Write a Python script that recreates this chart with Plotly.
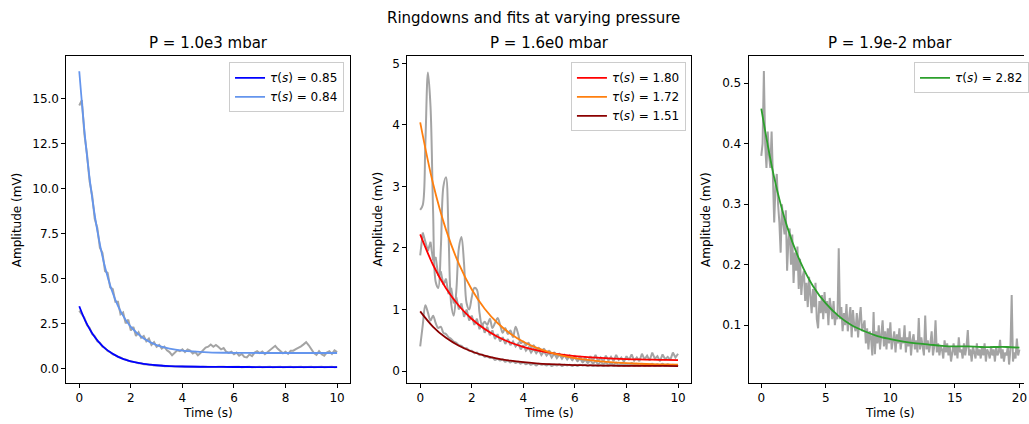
import plotly.graph_objects as go
import numpy as np

# ---------------- data ----------------
# Panel 1: P = 1.0e3 mbar
t1 = [round(i * 0.1, 1) for i in range(101)]
p1_grey_hi = [14.6, 14.9, 13.0, 11.9, 10.4, 9.6, 8.3, 7.8, 6.7, 6.4,
              5.4, 5.3, 4.5, 4.4, 3.7, 3.7, 3.0, 3.1, 2.5, 2.7,
              2.1, 2.3, 1.8, 2.0, 1.7, 1.8, 1.5, 1.65, 1.3, 1.45,
              1.2, 1.3, 1.1, 1.2, 1.0, 0.9, 0.72, 0.85, 1.0, 0.95,
              1.05, 0.9, 1.05, 0.98, 0.82, 0.9, 0.72, 0.85, 1.0, 1.15,
              1.2, 1.32, 1.2, 1.3, 1.18, 1.05, 1.12, 0.92, 0.85, 0.92,
              0.78, 0.87, 0.7, 0.8, 0.63, 0.6, 0.77, 0.68, 0.87, 0.95,
              0.85, 0.93, 0.78, 0.9, 0.98, 1.1, 1.25, 1.08, 0.95, 0.83,
              0.92, 0.8, 0.97, 0.98, 1.07, 1.13, 1.22, 1.33, 1.45, 1.28,
              1.05, 0.85, 0.75, 0.95, 0.78, 0.7, 0.87, 0.95, 0.8, 1.0,
              0.9]
p1_grey_lo = [3.2, 3.0, 2.8, 2.4, 2.25, 1.9, 1.78, 1.5, 1.42, 1.2,
              1.13, 0.97, 0.9, 0.78, 0.73, 0.63, 0.6, 0.51, 0.49, 0.42,
              0.4, 0.34, 0.33, 0.28, 0.28, 0.23, 0.23, 0.19, 0.2, 0.16,
              0.17, 0.14, 0.15, 0.12, 0.13, 0.11, 0.12, 0.1, 0.11, 0.09,
              0.1, 0.08, 0.1, 0.08, 0.09, 0.07, 0.09, 0.07, 0.08, 0.07,
              0.08, 0.06, 0.08, 0.07, 0.08, 0.06, 0.08, 0.07, 0.08, 0.06,
              0.08, 0.07, 0.08, 0.06, 0.08, 0.07, 0.08, 0.06, 0.08, 0.07,
              0.08, 0.06, 0.08, 0.07, 0.08, 0.06, 0.08, 0.07, 0.08, 0.06,
              0.08, 0.07, 0.08, 0.06, 0.08, 0.07, 0.08, 0.06, 0.08, 0.07,
              0.08, 0.06, 0.08, 0.07, 0.08, 0.06, 0.08, 0.07, 0.08, 0.06,
              0.07]
t1_fit = [0, 0.25, 0.5, 0.75, 1, 1.25, 1.5, 1.75, 2, 2.5, 3, 3.5, 4, 5, 6, 7, 8, 9, 10]
p1_fit_blue = [3.45, 2.59, 1.95, 1.47, 1.11, 0.85, 0.65, 0.50, 0.39, 0.25, 0.17,
               0.125, 0.10, 0.08, 0.073, 0.07, 0.07, 0.07, 0.07]
p1_fit_light = [16.50, 12.47, 9.48, 7.26, 5.61, 4.38, 3.47, 2.80, 2.30, 1.65, 1.29,
                1.09, 0.98, 0.89, 0.86, 0.85, 0.85, 0.85, 0.85]
p1_labels = ["0.85", "0.84"]

# Panel 2: P = 1.6e0 mbar
t2 = [round(i * 0.1, 1) for i in range(101)]
p2_grey_top = [2.62, 2.7, 3.7, 4.85, 4.3, 2.6, 1.45, 1.35, 2.0, 3.0,
               3.15, 2.2, 1.1, 0.9, 1.3, 2.0, 2.18, 1.75, 1.1, 1.0,
               1.2, 1.35, 1.32, 0.95, 0.75, 0.8, 0.75, 0.85, 0.7, 0.78,
               0.86, 0.75, 0.62, 0.7, 0.6, 0.66, 0.55, 0.72, 0.6, 0.45,
               0.48, 0.42, 0.46, 0.38, 0.42, 0.35, 0.38, 0.32, 0.36, 0.3,
               0.33, 0.28, 0.3, 0.25, 0.28, 0.22, 0.25, 0.2, 0.23, 0.18,
               0.22, 0.16, 0.2, 0.14, 0.18, 0.13, 0.17, 0.12, 0.16, 0.11,
               0.15, 0.11, 0.14, 0.1, 0.13, 0.1, 0.14, 0.09, 0.13, 0.1,
               0.12, 0.09, 0.13, 0.1, 0.12, 0.08, 0.12, 0.09, 0.11, 0.09,
               0.12, 0.08, 0.11, 0.09, 0.12, 0.08, 0.11, 0.09, 0.1, 0.08,
               0.1]
p2_grey_mid = [1.88, 2.25, 2.1, 1.95, 2.1, 1.8, 1.85, 1.55, 1.62, 1.4,
               1.5, 1.25, 1.35, 1.1, 1.2, 1.0, 1.1, 0.88, 1.0, 0.82,
               0.9, 0.75, 0.85, 0.68, 0.78, 0.62, 0.72, 0.58, 0.66, 0.52,
               0.6, 0.48, 0.55, 0.44, 0.52, 0.42, 0.48, 0.4, 0.45, 0.35,
               0.42, 0.33, 0.38, 0.3, 0.36, 0.29, 0.34, 0.26, 0.32, 0.25,
               0.3, 0.22, 0.28, 0.21, 0.27, 0.2, 0.26, 0.19, 0.25, 0.18,
               0.24, 0.17, 0.24, 0.16, 0.22, 0.15, 0.24, 0.17, 0.26, 0.16,
               0.22, 0.15, 0.25, 0.17, 0.23, 0.16, 0.26, 0.18, 0.22, 0.15,
               0.24, 0.18, 0.27, 0.17, 0.22, 0.16, 0.28, 0.19, 0.25, 0.17,
               0.3, 0.2, 0.24, 0.16, 0.27, 0.19, 0.23, 0.18, 0.3, 0.22,
               0.28]
p2_grey_low = [0.4, 0.75, 1.07, 0.95, 0.82, 0.9, 0.78, 0.7, 0.72, 0.62,
               0.6, 0.55, 0.52, 0.48, 0.46, 0.42, 0.41, 0.37, 0.37, 0.33,
               0.33, 0.29, 0.3, 0.26, 0.27, 0.23, 0.24, 0.21, 0.22, 0.18,
               0.2, 0.17, 0.19, 0.15, 0.17, 0.14, 0.16, 0.13, 0.15, 0.12,
               0.14, 0.11, 0.13, 0.1, 0.12, 0.09, 0.12, 0.1, 0.11, 0.09,
               0.11, 0.08, 0.1, 0.09, 0.11, 0.08, 0.1, 0.09, 0.1, 0.08,
               0.1, 0.08, 0.1, 0.09, 0.1, 0.08, 0.1, 0.08, 0.09, 0.08,
               0.1, 0.08, 0.09, 0.08, 0.1, 0.08, 0.09, 0.08, 0.1, 0.08,
               0.09, 0.08, 0.1, 0.08, 0.09, 0.08, 0.1, 0.08, 0.09, 0.08,
               0.1, 0.08, 0.09, 0.08, 0.1, 0.08, 0.09, 0.08, 0.09, 0.08,
               0.09]
t2_fit = [i * 0.5 for i in range(21)]
p2_fit_red = [2.22, 1.723, 1.346, 1.061, 0.845, 0.681, 0.557, 0.463, 0.392, 0.338, 0.298,
              0.267, 0.243, 0.225, 0.212, 0.202, 0.194, 0.188, 0.184, 0.180, 0.178]
p2_fit_orange = [4.04, 3.043, 2.298, 1.741, 1.325, 1.013, 0.780, 0.606, 0.476, 0.379, 0.306,
                 0.251, 0.210, 0.180, 0.158, 0.141, 0.128, 0.118, 0.111, 0.106, 0.102]
p2_fit_darkred = [0.97, 0.719, 0.539, 0.410, 0.317, 0.250, 0.202, 0.168, 0.143, 0.125, 0.112,
                  0.103, 0.097, 0.092, 0.089, 0.086, 0.084, 0.083, 0.082, 0.082, 0.081]
p2_labels = ["1.80", "1.72", "1.51"]

# Panel 3: P = 1.9e-2 mbar
t3 = [round(i * 0.1, 1) for i in range(201)]
p3_grey = [0.38, 0.40, 0.52, 0.40, 0.36, 0.42, 0.38, 0.36, 0.42, 0.35,
           0.27, 0.33, 0.35, 0.30, 0.27, 0.22, 0.30, 0.27, 0.25, 0.29,
           0.19, 0.24, 0.26, 0.20, 0.25, 0.17, 0.22, 0.19, 0.23, 0.16,
           0.21, 0.15, 0.18, 0.19, 0.14, 0.17, 0.13, 0.18, 0.15, 0.12,
           0.16, 0.13, 0.17, 0.11, 0.095, 0.14, 0.12, 0.15, 0.11, 0.155,
           0.12, 0.14, 0.10, 0.145, 0.13, 0.11, 0.14, 0.10, 0.12, 0.11,
           0.227, 0.11, 0.13, 0.09, 0.12, 0.10, 0.135, 0.09, 0.11, 0.13,
           0.08, 0.125, 0.10, 0.09, 0.12, 0.08, 0.11, 0.13, 0.09, 0.10,
           0.108, 0.07, 0.095, 0.06, 0.09, 0.08, 0.05, 0.122, 0.052, 0.09,
           0.07, 0.10, 0.06, 0.085, 0.108, 0.065, 0.09, 0.06, 0.095, 0.07,
           0.105, 0.06, 0.08, 0.09, 0.055, 0.085, 0.07, 0.095, 0.06, 0.08,
           0.07, 0.10, 0.055, 0.08, 0.065, 0.09, 0.05, 0.075, 0.085, 0.06,
           0.075, 0.055, 0.112, 0.06, 0.08, 0.065, 0.05, 0.116, 0.06, 0.075,
           0.055, 0.07, 0.09, 0.05, 0.065, 0.108, 0.055, 0.07, 0.05, 0.065,
           0.06, 0.045, 0.075, 0.055, 0.07, 0.05, 0.065, 0.04, 0.06, 0.07,
           0.05, 0.065, 0.045, 0.08, 0.055, 0.06, 0.045, 0.07, 0.05, 0.065,
           0.092, 0.05, 0.06, 0.04, 0.065, 0.055, 0.045, 0.07, 0.05, 0.06,
           0.045, 0.065, 0.05, 0.07, 0.04, 0.06, 0.055, 0.045, 0.065, 0.05,
           0.06, 0.04, 0.065, 0.05, 0.055, 0.076, 0.045, 0.06, 0.04, 0.055,
           0.05, 0.065, 0.035, 0.06, 0.15, 0.04, 0.055, 0.045, 0.078, 0.05,
           0.06]
t3_fit = list(range(21))
p3_fit_green = [0.458, 0.344, 0.263, 0.206, 0.165, 0.136, 0.115, 0.100, 0.090, 0.082, 0.077,
                0.073, 0.070, 0.068, 0.066, 0.065, 0.065, 0.064, 0.064, 0.064, 0.063]
p3_labels = ["2.82"]

titles = ["P = 1.0e3 mbar", "P = 1.6e0 mbar", "P = 1.9e-2 mbar"]
suptitle = "Ringdowns and fits at varying pressure"

# ---------------- figure ----------------
W, H = 1029, 424
FONT = "DejaVu Sans"
GREY = "#a4a4a4"

def px(x):
    return x / W

def py(y):
    return 1 - y / H

fig = go.Figure()

def grey(x, y, ax, shape="linear"):
    fig.add_trace(go.Scatter(x=x, y=y, mode="lines", line=dict(color=GREY, width=2, shape=shape),
                             xaxis=ax[0], yaxis=ax[1], showlegend=False, hoverinfo="skip"))

def fit(x, y, ax, color, label, legend):
    fig.add_trace(go.Scatter(x=x, y=y, mode="lines", line=dict(color=color, width=1.8, shape="spline"),
                             xaxis=ax[0], yaxis=ax[1], name="<i>τ</i>(<i>s</i>) = " + label,
                             legend=legend))

a1, a2, a3 = ("x", "y"), ("x2", "y2"), ("x3", "y3")
grey(t1, p1_grey_hi, a1)
grey(t1, p1_grey_lo, a1)
fit(t1_fit, p1_fit_blue, a1, "#0000ff", p1_labels[0], "legend")
fit(t1_fit, p1_fit_light, a1, "#6495ed", p1_labels[1], "legend")

grey(t2, p2_grey_top, a2, "spline")
grey(t2, p2_grey_mid, a2)
grey(t2, p2_grey_low, a2, "spline")
fit(t2_fit, p2_fit_red, a2, "#ff0000", p2_labels[0], "legend2")
fit(t2_fit, p2_fit_orange, a2, "#ff7f0e", p2_labels[1], "legend2")
fit(t2_fit, p2_fit_darkred, a2, "#8b0000", p2_labels[2], "legend2")

grey(t3, p3_grey, a3)
fit(t3_fit, p3_fit_green, a3, "#2ca02c", p3_labels[0], "legend3")

ydom = [py(382.7), py(56)]
axis_common = dict(showgrid=False, zeroline=False, showline=True, linecolor="black", linewidth=1,
                   ticks="outside", ticklen=4, tickwidth=1, tickcolor="black",
                   tickfont=dict(family=FONT, size=12, color="black"))

fig.update_layout(
    width=W, height=H, margin=dict(l=0, r=0, t=0, b=0),
    paper_bgcolor="white", plot_bgcolor="white",
    font=dict(family=FONT, size=12, color="black"),
    xaxis=dict(domain=[px(66.7), px(351.7)], range=[-0.5, 10.5], tickvals=[0, 2, 4, 6, 8, 10],
               mirror=True, anchor="y", **axis_common),
    yaxis=dict(domain=ydom, range=[-0.8, 17.35], tickvals=[0, 2.5, 5, 7.5, 10, 12.5, 15],
               tickformat=".1f", mirror=True, anchor="x", **axis_common),
    xaxis2=dict(domain=[px(409.3), px(694.3)], range=[-0.5, 10.5], tickvals=[0, 2, 4, 6, 8, 10],
                mirror=True, anchor="y2", **axis_common),
    yaxis2=dict(domain=ydom, range=[-0.19, 5.12], tickvals=[0, 1, 2, 3, 4, 5],
                mirror=True, anchor="x2", **axis_common),
    xaxis3=dict(domain=[px(752.3), 1.0], range=[-0.98, -0.98 + (W - 752.3) / 12.97],
                tickvals=[0, 5, 10, 15, 20], mirror=True, anchor="y3", **axis_common),
    yaxis3=dict(domain=ydom, range=[0.005, 0.545], tickvals=[0.1, 0.2, 0.3, 0.4, 0.5],
                tickformat=".1f", mirror=False, anchor="x3", **axis_common),
)

leg_common = dict(bgcolor="rgba(255,255,255,0.8)", bordercolor="#cccccc", borderwidth=1,
                  font=dict(family=FONT, size=12, color="black"), yanchor="top", y=py(62.3),
                  itemwidth=30, tracegroupgap=0)
fig.update_layout(
    legend=dict(x=px(345.7), xanchor="right", **leg_common),
    legend2=dict(x=px(689.3), xanchor="right", **leg_common),
    legend3=dict(x=px(918.7), xanchor="left", **leg_common),
)

ann = []
ann.append(dict(text=suptitle, x=px(536), y=py(18), xref="paper", yref="paper", showarrow=False,
                font=dict(family=FONT, size=15, color="black"), xanchor="center", yanchor="middle"))
centers = [(66.7 + 351.7) / 2, (409.3 + 694.3) / 2, (752.3 + 1037.3) / 2]
for c, ttl in zip(centers, titles):
    ann.append(dict(text=ttl, x=px(c), y=py(43), xref="paper", yref="paper", showarrow=False,
                    font=dict(family=FONT, size=15, color="black"), xanchor="center", yanchor="middle"))
    ann.append(dict(text="Time (s)", x=px(c), y=py(413), xref="paper", yref="paper", showarrow=False,
                    font=dict(family=FONT, size=12, color="black"), xanchor="center", yanchor="middle"))
for xl in [17, 380, 710]:
    ann.append(dict(text="Amplitude (mV)", x=px(xl), y=(ydom[0] + ydom[1]) / 2, xref="paper",
                    yref="paper", showarrow=False, textangle=-90,
                    font=dict(family=FONT, size=12, color="black"), xanchor="center", yanchor="middle"))
fig.update_layout(annotations=ann)

fig.write_html("out.html")
